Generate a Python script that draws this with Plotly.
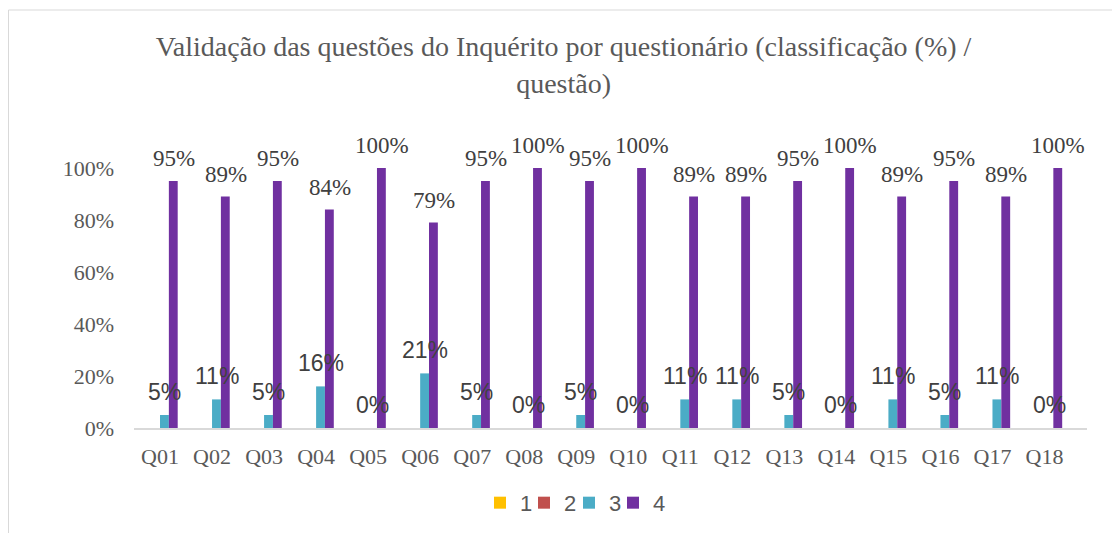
import plotly.graph_objects as go

categories = ["Q01","Q02","Q03","Q04","Q05","Q06","Q07","Q08","Q09","Q10","Q11","Q12","Q13","Q14","Q15","Q16","Q17","Q18"]
s1 = [0]*18
s2 = [0]*18
s3 = [0.05,0.11,0.05,0.16,0,0.21,0.05,0,0.05,0,0.11,0.11,0.05,0,0.11,0.05,0.11,0]
s4 = [0.95,0.89,0.95,0.84,1.00,0.79,0.95,1.00,0.95,1.00,0.89,0.89,0.95,1.00,0.89,0.95,0.89,1.00]
series_names = ["1","2","3","4"]
colors = ["#FFC000","#C0504D","#4BACC6","#7030A0"]
y_ticks = [0, 0.2, 0.4, 0.6, 0.8, 1.0]

serif = "Liberation Serif, Times New Roman, serif"
sans = "Liberation Sans, Arial, sans-serif"

W, H = 1112, 525
L, R, T, B = 126, 33, 160, 105
plot_w = W - L - R
bargap = 0.32
bar_px = plot_w / len(categories) * (1 - bargap) / 4

fig = go.Figure()
for i, (vals, name) in enumerate(zip([s1, s2, s3, s4], series_names)):
    fig.add_trace(go.Bar(x=categories, y=vals, name=name, marker_color=colors[i],
                         marker_line_width=0, legend="legend" if i == 0 else f"legend{i+1}"))

annotations = []
for vals, fam, offs in [(s3, sans, 0.5), (s4, serif, 1.5)]:
    for c, v in zip(categories, vals):
        annotations.append(dict(x=c, y=v, xref="x", yref="y", text=f"{round(v*100)}%",
                                showarrow=False, xanchor="center", yanchor="bottom",
                                xshift=offs * bar_px, yshift=8,
                                font=dict(family=fam, size=23, color="#404040")))

# legend square left edges (figure px)
leg_px = [486, 530, 575, 619]
legend_common = dict(orientation="h", xanchor="left", yanchor="middle", y=-0.288,
                     font=dict(family=sans, size=22, color="#595959"), itemwidth=30,
                     bgcolor="rgba(0,0,0,0)")
legends = {}
for i, px in enumerate(leg_px):
    key = "legend" if i == 0 else f"legend{i+1}"
    legends[key] = dict(legend_common, x=(px - 14 - L) / plot_w)

fig.update_layout(
    width=W, height=H,
    paper_bgcolor="white", plot_bgcolor="white",
    barmode="group", bargap=bargap, bargroupgap=0,
    margin=dict(l=L, r=R, t=T, b=B, pad=0, autoexpand=False),
    title=dict(text="Validação das questões do Inquérito por questionário (classificação (%) /<br>questão)",
               x=0.4996, xref="container", xanchor="center", y=0.9077, yref="container", yanchor="middle",
               font=dict(family=serif, size=28, color="#595959")),
    showlegend=True,
    annotations=annotations,
    shapes=[dict(type="rect", xref="paper", yref="paper",
                 x0=(0.5 - L) / plot_w, x1=1.3, y0=-1.0, y1=(H - B - 2) / (H - T - B),
                 line=dict(color="#D9D9D9", width=1), fillcolor="rgba(0,0,0,0)", layer="below")],
    **legends,
)
fig.update_xaxes(showline=True, linecolor="#D9D9D9", linewidth=1.5, ticks="", showgrid=False,
                 ticklabelstandoff=8, automargin=False,
                 tickfont=dict(family=serif, size=22, color="#595959"))
fig.update_yaxes(range=[0, 1], tickvals=y_ticks, tickformat=".0%", showgrid=False,
                 zeroline=False, showline=False, ticks="", ticklabelstandoff=19, automargin=False,
                 tickfont=dict(family=serif, size=22, color="#595959"))
fig.write_html("out.html")
